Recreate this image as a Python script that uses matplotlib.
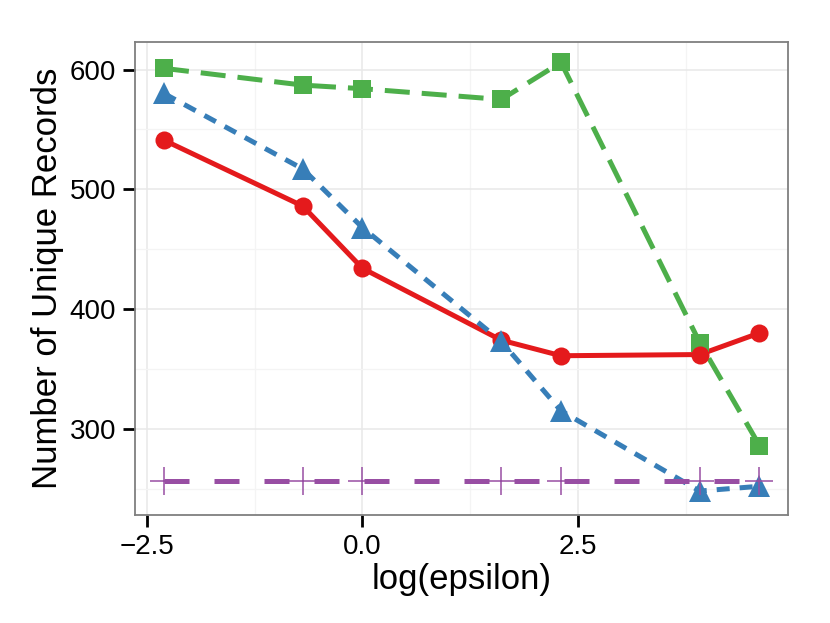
import numpy as np
import matplotlib.pyplot as plt
from matplotlib.ticker import MultipleLocator, FuncFormatter

plt.rcParams['font.family'] = ['Liberation Sans', 'DejaVu Sans']

log_eps = np.log([0.1, 0.5, 1, 5, 10, 50, 100])
red_vals = [541, 486, 434, 374, 361, 362, 380]
green_vals = [601, 587, 584, 575, 606, 372, 286]
blue_vals = [580, 517, 468, 373, 315, 248, 252]
purple_vals = [256, 256, 256, 256, 256, 256, 256]

fig = plt.figure(figsize=(8.3, 6.23), dpi=100)
ax = fig.add_axes([135 / 830, 1 - 515 / 623, (788 - 135) / 830, (515 - 42) / 623])

# values, colour, dash pattern, marker, marker size
series = [
    (green_vals, '#4daf4a', (0, (5, 2.4)), 's', 12.5),
    (red_vals, '#e41a1c', '-', 'o', 13),
    (blue_vals, '#377eb8', (0, (2.6, 2.0)), '^', 16),
    (purple_vals, '#984ea3', (0, (5, 5)), '+', 20),
]
for vals, col, ls, mk, ms in series:
    ax.plot(log_eps, vals, color=col, lw=3.6, ls=ls, dash_capstyle='butt', zorder=2)
for vals, col, ls, mk, ms in series:
    ax.plot(log_eps, vals, color=col, ls='none', marker=mk, ms=ms,
            mew=1.1 if mk == '+' else 0, zorder=3)

ax.set_xlim(-2.639, 4.936)
ax.set_ylim(228, 623)
ax.xaxis.set_major_locator(MultipleLocator(2.5))
ax.xaxis.set_minor_locator(MultipleLocator(1.25))
ax.yaxis.set_major_locator(MultipleLocator(100))
ax.yaxis.set_minor_locator(MultipleLocator(50))
ax.xaxis.set_major_formatter(FuncFormatter(lambda v, p: f'{v:.1f}'.replace('-', '\u2212')))
ax.grid(which='major', color='#e8e8e8', lw=1.1, zorder=0)
ax.grid(which='minor', color='#f4f4f4', lw=0.9, zorder=0)
ax.tick_params(which='minor', length=0)
ax.tick_params(which='major', length=8.6, width=2, color='black', labelsize=20, pad=5)
for s in ax.spines.values():
    s.set_color('#7f7f7f')
    s.set_linewidth(1.3)

ax.set_xlabel('log(epsilon)', fontsize=25, labelpad=2)
ax.set_ylabel('Number of Unique Records', fontsize=25, labelpad=4)

fig.savefig('out.png', dpi=100)
